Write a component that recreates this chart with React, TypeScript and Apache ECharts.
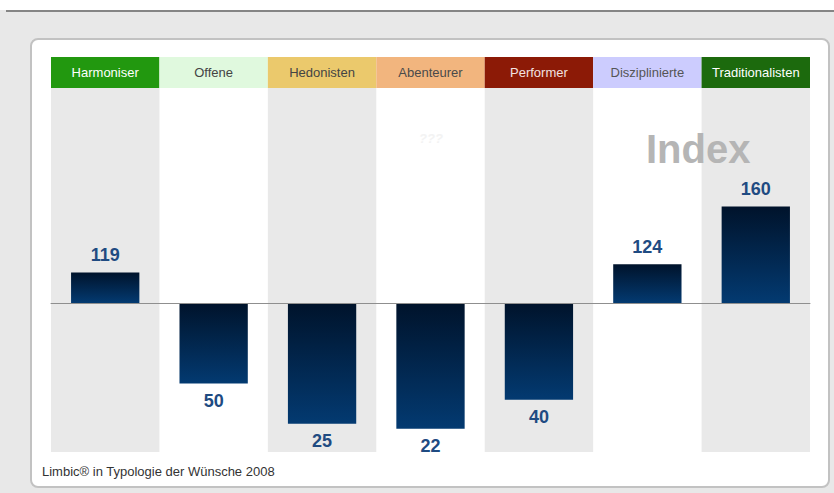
import React, { useEffect, useRef } from "react";
import * as echarts from "echarts";

const categories = ["Harmoniser", "Offene", "Hedonisten", "Abenteurer", "Performer", "Disziplinierte", "Traditionalisten"];
const indexValues = [119, 50, 25, 22, 40, 124, 160];
const headerColors = ["#22980f", "#e0f9de", "#ebc96c", "#f2b57e", "#8c1a06", "#ccccfe", "#1c6a0d"];
const headerTextColors = ["#ffffff", "#444444", "#444444", "#4a4a4a", "#f3e2e2", "#555555", "#ffffff"];
const baseIndex = 100;
const yMin = -92.5;
const yMax = 133.5;
const footerText = "Limbic® in Typologie der Wünsche 2008";
const titleText = "Index";

export default function App() {
  const ref = useRef<HTMLDivElement>(null);
  useEffect(() => {
    if (!ref.current) return;
    const chart = echarts.init(ref.current, undefined, { renderer: "svg" });
    const font = "Arial, 'Liberation Sans', sans-serif";
    const option: any = {
      animation: false,
      backgroundColor: "#e8e8e8",
      grid: { left: 51, right: 24, top: 88, bottom: 41 },
      xAxis: {
        type: "category",
        data: categories,
        z: 5,
        axisLine: { show: true, onZero: true, lineStyle: { color: "#8f8f8f", width: 1 } },
        axisTick: { show: false },
        axisLabel: { show: false },
        splitLine: { show: false },
      },
      yAxis: {
        type: "value",
        min: yMin,
        max: yMax,
        show: false,
        splitLine: { show: false },
      },
      graphic: [
        { type: "rect", z: -10, shape: { x: 0, y: 0, width: 834, height: 10 }, style: { fill: "#ffffff" } },
        { type: "rect", z: -9, shape: { x: 6, y: 10, width: 828, height: 2 }, style: { fill: "#858585" } },
        {
          type: "rect",
          z: -8,
          shape: { x: 31, y: 39, width: 798, height: 448, r: 7 },
          style: { fill: "#ffffff", stroke: "#c2c2c2", lineWidth: 2 },
        },
        {
          type: "text",
          z: 20,
          x: 42,
          y: 471,
          style: { text: footerText, fill: "#333333", font: `13px ${font}`, verticalAlign: "middle" },
        },
        {
          type: "text",
          z: 20,
          x: 646,
          y: 149,
          style: { text: titleText, fill: "#b5b5b5", font: `bold 40px ${font}`, verticalAlign: "middle" },
        },
        {
          type: "text",
          z: 20,
          x: 431,
          y: 138,
          style: { text: "???", fill: "#f3f3f3", font: `bold italic 13px ${font}`, align: "center", verticalAlign: "middle" },
        },
      ],
      series: [
        {
          type: "custom",
          z: 1,
          silent: true,
          data: categories.map((c, i) => [i, 0]),
          encode: { x: 0, y: 1 },
          renderItem: (params: any, api: any) => {
            const i = api.value(0);
            const top = api.coord([i, yMax]);
            const bottom = api.coord([i, yMin]);
            const w = api.size([1, 0])[0];
            const x0 = top[0] - w / 2;
            const children: any[] = [];
            if (i % 2 === 0) {
              children.push({
                type: "rect",
                shape: { x: x0, y: top[1], width: w, height: bottom[1] - top[1] },
                style: { fill: "#e9e9e9" },
              });
            }
            children.push({
              type: "rect",
              shape: { x: x0, y: top[1] - 31, width: w, height: 31 },
              style: { fill: headerColors[i] },
            });
            children.push({
              type: "text",
              style: {
                x: top[0],
                y: top[1] - 15.5,
                text: categories[i],
                fill: headerTextColors[i],
                font: `13px ${font}`,
                align: "center",
                verticalAlign: "middle",
              },
            });
            return { type: "group", children };
          },
        },
        {
          type: "bar",
          z: 3,
          barWidth: "63%",
          data: indexValues.map((v) => ({
            value: v - baseIndex,
            label: { position: v >= baseIndex ? "top" : "bottom" },
          })),
          itemStyle: {
            color: new echarts.graphic.LinearGradient(0, 0, 0, 1, [
              { offset: 0, color: "#00132b" },
              { offset: 1, color: "#033a71" },
            ]),
          },
          label: {
            show: true,
            distance: 8,
            formatter: (p: any) => String(indexValues[p.dataIndex]),
            color: "#1f4b82",
            fontWeight: "bold",
            fontSize: 18,
            fontFamily: font,
          },
        },
      ],
    };
    chart.setOption(option);
    return () => chart.dispose();
  }, []);
  return <div ref={ref} style={{ position: "fixed", left: 0, top: 0, width: 834, height: 493 }} />;
}
